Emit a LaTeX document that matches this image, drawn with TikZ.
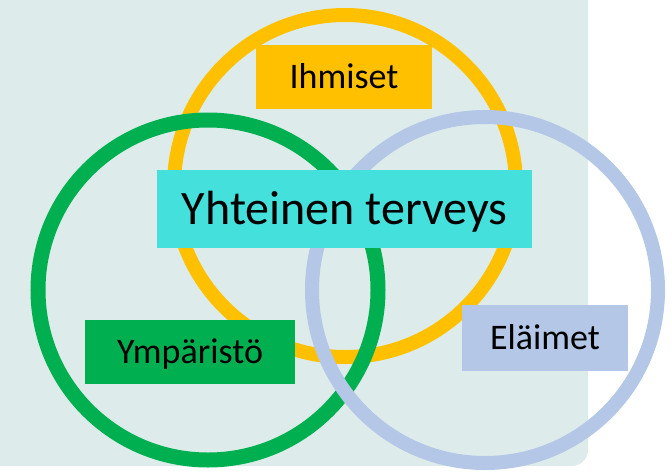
\documentclass[tikz,border=0pt]{standalone}
\usepackage{fontspec}
\setmainfont{Carlito}
\usepackage{tikz}
\usetikzlibrary{positioning}

\definecolor{bgteal}{HTML}{DDECEA}
\definecolor{ringyellow}{HTML}{FFC000}
\definecolor{ringgreen}{HTML}{00B050}
\definecolor{ringblue}{HTML}{B4C7E7}
\definecolor{titlecyan}{HTML}{43E0DC}

\begin{document}
\begin{tikzpicture}[x=1pt,y=-1pt,
    ring/.style={shape=circle,draw=#1,line width=14pt,inner sep=0pt,minimum size=342pt},
    tag/.style={shape=rectangle,fill=#1,text=black,inner sep=0pt,
        font=\fontsize{36}{40}\selectfont,text height=23pt,text depth=0pt}]
    \useasboundingbox (0,0) rectangle (672,472);
    \clip (0,0) rectangle (672,472);
    %%%%% THE BACKGROUND
    \fill[bgteal,rounded corners=16pt] (-30,-30) rectangle (588,466);
    %%%%% THE RINGS
    \begin{scope}
      \node[ring=ringyellow] (PEOPLE) at (345,186) {};
      \node[ring=ringgreen,line width=15pt,minimum size=340pt] (NATURE) at (208,290) {};
      \node[ring=ringblue,minimum size=346pt] (ANIMALS) at (485,290) {};
    \end{scope}
    %%%%% THE LABELS
    \begin{scope}
      \node[tag=titlecyan,minimum width=375pt,minimum height=78pt,
          font=\fontsize{48}{54}\selectfont,text height=31pt] (ONEHEALTH) at (344.5,209) {Yhteinen terveys};
      \node[tag=ringyellow,minimum width=176pt,minimum height=64pt] (PEOPLETAG) at (344,77) {Ihmiset};
      \node[tag=ringgreen,minimum width=210pt,minimum height=64pt] (NATURETAG) at (190,352) {Ympäristö};
      \node[tag=ringblue,minimum width=166pt,minimum height=66pt] (ANIMALSTAG) at (545,338) {Eläimet};
    \end{scope}
\end{tikzpicture}
\end{document}
